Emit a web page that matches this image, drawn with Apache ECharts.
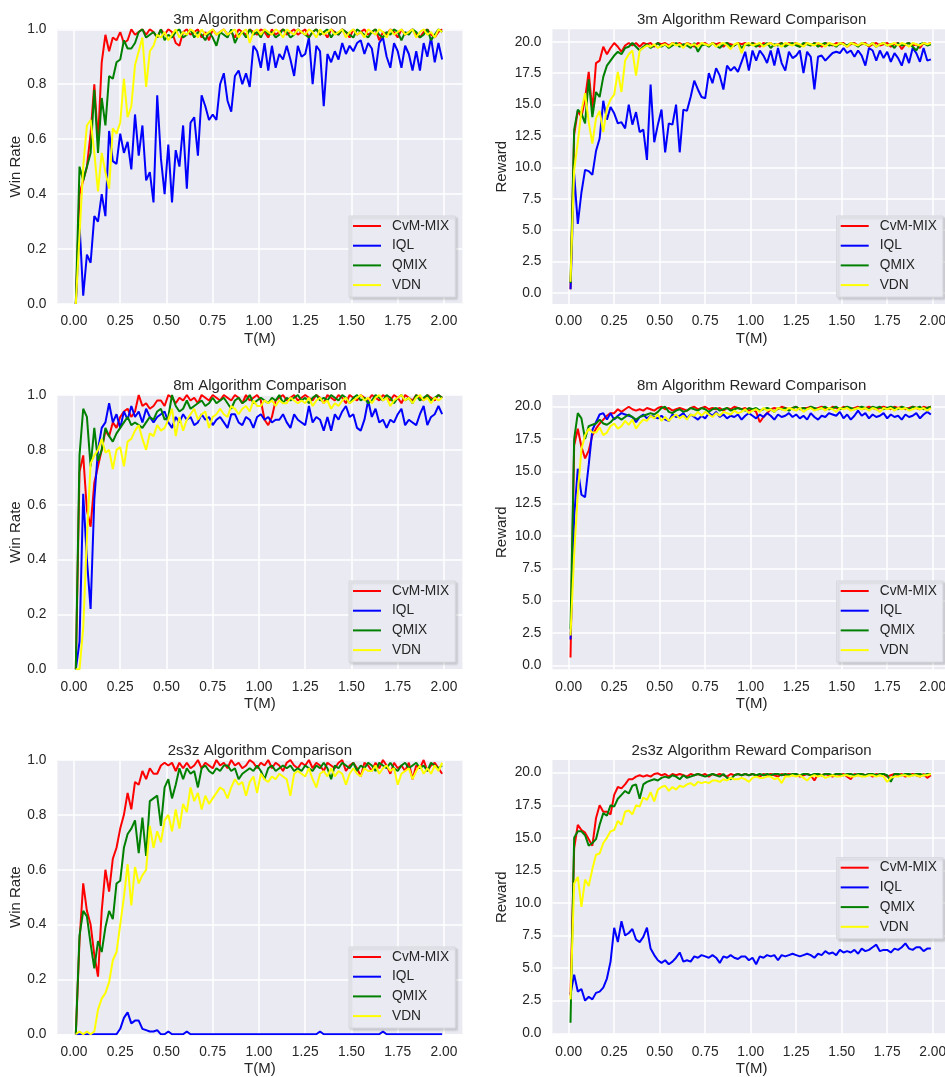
<!DOCTYPE html>
<html><head><meta charset="utf-8">
<script src="https://cdn.jsdelivr.net/npm/echarts@6.0.0/dist/echarts.min.js"></script>
<style>html,body{margin:0;padding:0;background:#fff}#c{width:945px;height:1077px}</style>
</head><body><div id="c"></div>
<script>
const T = [
0.01,0.03,0.05,0.07,0.09,0.11,0.13,0.15,0.17,0.19,
0.21,0.23,0.25,0.27,0.29,0.31,0.33,0.35,0.37,0.39,
0.41,0.43,0.45,0.47,0.49,0.51,0.53,0.55,0.57,0.59,
0.61,0.63,0.65,0.67,0.69,0.71,0.73,0.75,0.77,0.79,
0.81,0.83,0.85,0.87,0.89,0.91,0.93,0.95,0.97,0.99,
1.01,1.03,1.05,1.07,1.09,1.11,1.13,1.15,1.17,1.19,
1.21,1.23,1.25,1.27,1.29,1.31,1.33,1.35,1.37,1.39,
1.41,1.43,1.45,1.47,1.49,1.51,1.53,1.55,1.57,1.59,
1.61,1.63,1.65,1.67,1.69,1.71,1.73,1.75,1.77,1.79,
1.81,1.83,1.85,1.87,1.89,1.91,1.93,1.95,1.97,1.99];

const SERIES_NAMES = ['CvM-MIX', 'IQL', 'QMIX', 'VDN'];
const X_TICKS = [0, 0.25, 0.5, 0.75, 1, 1.25, 1.5, 1.75, 2];
const WIN_TICKS = [0, 0.2, 0.4, 0.6, 0.8, 1];
const REWARD_TICKS = [0, 2.5, 5, 7.5, 10, 12.5, 15, 17.5, 20];

// ---- 3m win rate ----
const WIN_3M_CVM = [
0.00,0.40,0.45,0.50,0.62,0.80,0.59,0.88,0.98,0.92,
0.97,0.96,0.99,0.95,0.96,1.00,0.98,0.99,1.00,0.98,
1.00,0.99,0.97,1.00,0.98,1.00,0.99,0.95,0.94,0.99,
1.00,0.98,0.99,1.00,0.97,0.99,0.96,1.00,0.98,0.99,
1.00,0.98,0.99,0.97,1.00,0.99,0.98,1.00,0.99,0.98,
1.00,0.99,0.97,1.00,0.98,0.99,1.00,0.98,0.99,1.00,
0.98,0.99,1.00,0.97,0.99,1.00,0.98,0.99,0.97,1.00,
0.99,0.98,1.00,0.99,0.97,1.00,0.98,0.99,1.00,0.98,
0.99,1.00,0.96,0.99,0.98,1.00,0.99,0.97,1.00,0.98,
0.99,1.00,0.98,0.97,0.99,1.00,0.98,0.97,0.99,1.00];
const WIN_3M_IQL = [
0.00,0.29,0.03,0.18,0.15,0.32,0.30,0.40,0.32,0.63,
0.52,0.51,0.62,0.55,0.59,0.49,0.69,0.54,0.65,0.45,
0.48,0.37,0.76,0.53,0.40,0.58,0.37,0.56,0.50,0.65,
0.42,0.66,0.68,0.54,0.76,0.72,0.67,0.69,0.67,0.80,
0.84,0.74,0.70,0.83,0.85,0.80,0.84,0.79,0.94,0.92,
0.86,0.95,0.85,0.94,0.86,0.91,0.89,0.94,0.89,0.83,
0.94,0.90,0.91,0.97,0.80,0.94,0.92,0.72,0.91,0.88,
0.92,0.89,0.95,0.91,0.94,0.92,0.95,0.96,0.91,0.95,
0.93,0.85,0.95,0.97,0.90,0.86,0.95,0.92,0.86,0.94,
0.91,0.85,0.92,0.85,0.95,0.90,0.97,0.88,0.95,0.89];
const WIN_3M_QMIX = [
0.00,0.50,0.45,0.50,0.55,0.78,0.55,0.75,0.65,0.83,
0.82,0.88,0.89,0.96,0.93,0.93,0.95,0.99,1.00,0.97,
0.98,0.99,0.97,1.00,0.96,0.98,0.97,0.99,1.00,0.97,
0.98,1.00,0.97,0.99,0.98,0.96,0.99,0.97,0.94,0.99,
0.98,0.97,1.00,0.95,0.98,0.99,0.97,1.00,0.98,0.99,
0.97,1.00,0.98,0.99,0.97,0.98,1.00,0.99,0.97,0.98,
1.00,0.99,0.98,0.97,0.99,1.00,0.98,0.99,1.00,0.97,
0.99,0.98,1.00,0.99,0.98,0.97,1.00,0.99,0.98,0.97,
0.99,1.00,0.98,0.97,0.99,0.98,1.00,0.99,0.96,0.99,
0.98,1.00,0.99,0.97,0.98,1.00,0.96,0.98,1.00,0.99];
const WIN_3M_VDN = [
0.00,0.25,0.50,0.65,0.67,0.55,0.41,0.55,0.48,0.42,
0.64,0.62,0.66,0.82,0.68,0.72,0.87,0.92,0.97,0.79,
0.92,0.94,0.98,0.97,0.99,0.96,0.98,1.00,0.97,0.99,
0.98,1.00,0.99,0.97,1.00,0.98,0.99,1.00,0.98,0.99,
1.00,0.98,0.99,1.00,0.97,0.99,1.00,0.95,0.99,1.00,
0.98,1.00,0.99,0.98,1.00,0.99,0.97,1.00,0.99,0.98,
1.00,0.99,0.98,1.00,0.99,0.97,1.00,0.98,0.99,1.00,
0.98,0.99,1.00,0.97,0.99,1.00,0.98,0.99,0.97,1.00,
0.99,0.98,1.00,0.99,0.97,1.00,0.98,0.99,1.00,0.98,
0.99,1.00,0.97,0.99,1.00,0.98,0.99,0.97,1.00,0.99];

// ---- 3m reward ----
const REW_3M_CVM = [
0.3,12.6,14.5,14.0,15.5,17.6,14.5,18.3,18.5,19.6,
19.0,19.5,19.9,19.6,19.2,19.7,19.9,19.7,19.9,19.6,
19.9,19.8,19.9,19.6,19.9,19.8,19.9,19.7,19.9,19.8,
19.9,19.7,19.9,19.8,19.6,19.9,19.8,19.9,19.7,19.9,
19.8,19.9,19.6,19.9,19.8,19.7,19.9,19.8,19.9,19.7,
19.9,19.8,19.6,19.9,19.8,19.9,19.7,19.8,19.9,19.7,
19.9,19.8,19.9,19.6,19.8,19.9,19.7,19.9,19.8,19.6,
19.9,19.8,19.7,19.9,19.8,19.9,19.6,19.8,19.9,19.7,
19.8,19.9,19.6,19.8,19.9,19.7,19.8,19.9,19.6,19.8,
19.9,19.4,19.8,19.9,19.7,19.8,19.5,19.9,19.8,19.9];
const REW_3M_IQL = [
0.3,9.5,5.5,8.0,9.8,9.7,9.4,11.3,12.3,15.3,
13.8,14.8,14.3,13.5,13.6,13.1,15.0,13.4,14.4,12.8,
13.0,10.6,16.6,12.0,13.4,14.6,11.2,13.5,13.4,15.0,
11.2,14.6,14.5,15.6,16.9,16.2,15.6,15.5,17.5,16.7,
17.9,17.3,16.2,18.1,17.7,18.0,17.6,18.4,19.2,17.7,
19.3,18.5,19.3,18.9,18.3,19.3,18.1,19.5,18.3,17.7,
19.2,18.7,18.9,19.3,17.5,19.2,18.8,16.2,18.8,18.9,
18.5,18.8,19.1,19.2,19.1,19.5,19.1,19.3,18.8,19.3,
18.9,18.1,19.5,19.3,18.5,19.3,18.7,19.2,18.4,19.1,
18.7,18.1,19.1,18.3,19.5,19.1,18.4,19.5,18.5,18.6];
const REW_3M_QMIX = [
0.8,13.0,14.6,14.3,13.5,17.0,14.0,16.0,15.6,17.2,
18.1,18.5,18.9,19.2,19.0,19.5,19.6,19.9,19.6,19.3,
19.6,19.8,19.5,19.7,19.9,19.6,19.8,19.5,19.7,19.9,
19.6,19.8,19.7,19.5,19.9,19.2,19.7,19.8,19.6,19.9,
19.7,19.5,19.8,19.9,19.6,19.7,19.9,19.5,19.8,19.7,
19.9,19.6,19.8,19.7,19.9,19.5,19.8,19.7,19.9,19.6,
19.8,19.9,19.7,19.6,19.9,19.8,19.7,19.9,19.6,19.8,
19.9,19.7,19.8,19.6,19.9,19.8,19.7,19.9,19.8,19.6,
19.9,19.8,19.7,19.9,19.6,19.8,19.9,19.7,19.8,19.5,
19.9,19.7,19.8,19.9,19.6,19.3,19.8,19.9,19.7,19.8];
const REW_3M_VDN = [
0.9,9.8,12.0,14.5,15.9,13.6,11.9,13.9,14.5,12.8,
14.7,15.4,15.8,17.6,16.0,18.5,19.0,19.3,17.3,19.3,
19.5,19.7,19.6,19.8,19.5,19.7,19.8,19.6,19.9,19.7,
19.8,19.5,19.9,19.7,19.8,19.6,19.9,19.8,19.7,19.9,
19.6,19.8,19.9,19.7,19.4,19.8,19.9,19.1,19.8,19.9,
19.7,19.8,19.9,19.6,19.8,19.9,19.7,19.8,19.6,19.9,
19.8,19.7,19.9,19.8,19.6,19.9,19.8,19.7,19.9,19.8,
19.6,19.9,19.8,19.7,19.9,19.8,19.6,19.9,19.8,19.7,
19.9,19.8,19.7,19.9,19.6,19.8,19.9,19.7,19.8,19.9,
19.7,19.9,19.8,19.6,19.9,19.8,19.7,19.9,19.8,19.9];

// ---- 8m win rate ----
const WIN_8M_CVM = [
0.00,0.72,0.78,0.58,0.52,0.68,0.74,0.80,0.87,0.85,
0.90,0.88,0.92,0.94,0.95,0.92,0.94,1.00,0.96,0.97,
0.95,0.96,0.98,0.98,0.96,1.00,0.99,0.97,0.99,0.98,
1.00,0.98,0.99,0.97,1.00,0.99,0.98,1.00,0.99,0.98,
1.00,0.99,0.98,1.00,0.99,0.97,1.00,0.98,0.99,1.00,
0.98,0.91,0.89,0.92,0.98,0.99,1.00,0.98,0.99,1.00,
0.98,0.99,1.00,0.99,0.98,1.00,0.99,0.97,1.00,0.99,
0.98,1.00,0.99,0.97,1.00,0.99,0.98,1.00,0.99,0.98,
1.00,0.99,0.98,1.00,0.99,0.98,1.00,0.99,0.97,1.00,
0.99,0.98,1.00,0.99,0.98,1.00,0.99,0.98,1.00,0.99];
const WIN_8M_IQL = [
0.00,0.10,0.64,0.40,0.22,0.62,0.80,0.88,0.90,0.97,
0.90,0.93,0.88,0.94,0.91,0.96,0.92,0.94,0.90,0.95,
0.92,0.90,0.92,0.93,0.94,0.90,0.88,0.92,0.90,0.93,
0.91,0.92,0.89,0.90,0.93,0.91,0.92,0.89,0.91,0.92,
0.90,0.88,0.93,0.93,0.90,0.89,0.92,0.91,0.88,0.92,
0.93,0.91,0.92,0.90,0.91,0.91,0.93,0.90,0.88,0.93,
0.91,0.90,0.89,0.96,0.90,0.92,0.91,0.87,0.92,0.87,
0.93,0.91,0.94,0.96,0.92,0.93,0.88,0.87,0.91,0.98,
0.92,0.95,0.90,0.91,0.88,0.91,0.90,0.93,0.95,0.89,
0.91,0.90,0.89,0.93,0.96,0.89,0.92,0.93,0.96,0.93];
const WIN_8M_QMIX = [
0.00,0.78,0.95,0.92,0.74,0.88,0.76,0.80,0.88,0.85,
0.83,0.86,0.88,0.90,0.92,0.89,0.90,0.89,0.88,0.90,
0.92,0.91,0.94,0.95,0.91,0.92,1.00,0.96,0.94,0.95,
0.98,0.95,0.96,0.97,0.98,0.96,0.97,0.99,0.97,0.98,
0.99,0.97,0.95,0.98,0.99,0.97,0.98,1.00,0.97,0.98,
0.99,0.98,0.97,0.99,0.98,1.00,0.97,0.99,0.98,0.99,
1.00,0.98,0.99,0.97,0.99,1.00,0.98,0.99,0.98,1.00,
0.99,0.98,1.00,0.99,0.97,0.99,1.00,0.98,0.99,0.97,
0.98,1.00,0.99,0.98,1.00,0.99,0.97,0.99,1.00,0.98,
0.99,0.97,1.00,0.98,0.99,1.00,0.98,0.99,1.00,0.99];
const WIN_8M_VDN = [
0.00,0.00,0.15,0.48,0.75,0.78,0.80,0.84,0.79,0.80,
0.73,0.80,0.81,0.74,0.83,0.84,0.87,0.89,0.84,0.80,
0.86,0.85,0.89,0.87,0.88,0.91,0.95,0.85,0.92,0.87,
0.91,0.93,0.95,0.91,0.93,0.94,0.88,0.92,0.93,0.95,
0.93,0.92,0.96,0.95,0.93,0.95,0.96,0.94,0.98,0.96,
0.96,0.98,0.97,0.98,0.96,0.98,0.97,0.97,0.99,0.98,
0.97,0.98,0.97,0.99,0.96,0.98,0.99,0.97,0.98,0.95,
0.97,0.96,0.98,0.99,0.97,0.98,0.99,1.00,0.98,0.99,
0.97,0.99,1.00,0.98,0.99,0.96,0.98,0.99,1.00,0.98,
0.99,0.97,0.99,1.00,0.98,0.99,0.97,0.99,0.98,0.99];

// ---- 8m reward ----
const REW_8M_CVM = [
0.6,17.0,18.3,16.9,16.0,16.6,17.8,18.3,18.7,19.0,
19.3,19.5,19.5,19.8,19.6,19.8,20.0,19.8,19.7,19.8,
19.7,19.9,19.8,19.7,19.9,20.0,19.8,19.9,19.7,19.8,
19.9,19.8,19.7,19.9,20.0,19.8,19.9,20.0,19.8,19.9,
19.8,19.9,19.7,19.9,19.8,20.0,19.9,19.8,19.9,19.7,
19.8,19.6,18.8,19.2,19.5,19.8,19.9,19.8,20.0,19.9,
19.8,19.9,20.0,19.8,19.9,19.9,20.0,19.8,19.9,20.0,
19.9,19.8,20.0,19.9,19.8,20.0,19.9,19.8,19.9,20.0,
19.8,19.9,20.0,19.9,19.8,19.9,20.0,19.9,19.8,20.0,
19.9,20.0,19.8,19.9,20.0,19.9,19.8,20.0,19.9,20.0];
const REW_8M_IQL = [
2.0,11.5,15.2,13.2,13.0,15.5,18.2,18.8,19.4,19.5,
19.0,19.5,19.0,19.3,19.5,19.4,19.3,19.2,18.8,19.2,
19.4,19.1,19.3,19.2,19.1,19.3,19.0,18.9,19.4,19.2,
19.3,19.5,19.1,19.4,19.2,19.0,19.3,19.1,19.5,19.3,
19.6,19.2,19.4,19.1,19.3,19.2,19.4,19.0,19.3,19.5,
19.3,19.1,19.4,19.2,19.5,19.3,19.0,19.4,19.2,19.3,
19.5,19.2,19.4,19.1,19.3,19.0,19.5,19.2,19.0,19.3,
19.2,19.5,19.4,19.3,19.6,19.1,19.4,19.0,19.3,19.7,
19.3,19.5,19.1,19.4,19.2,19.3,19.5,19.1,19.4,19.2,
19.3,19.0,19.4,19.2,19.3,19.5,19.1,19.4,19.6,19.4];
const REW_8M_QMIX = [
2.8,17.5,19.5,19.1,17.5,18.5,18.6,18.7,19.0,18.7,
18.6,18.8,19.1,19.2,19.0,19.2,19.4,19.2,19.0,19.2,
19.3,19.4,19.5,19.4,19.6,19.9,20.0,19.6,19.5,19.7,
19.8,19.6,19.7,19.9,19.8,19.7,19.9,19.8,19.6,19.8,
19.9,19.7,19.8,19.9,19.7,19.8,19.9,19.8,19.7,19.9,
19.8,19.9,19.7,19.8,19.9,19.8,19.6,19.9,19.8,19.9,
19.7,19.9,20.0,19.8,19.9,19.8,20.0,19.9,19.8,19.9,
20.0,19.8,19.9,20.0,19.8,19.9,20.0,19.9,19.8,19.9,
20.0,19.9,19.8,20.0,19.9,20.0,19.8,19.9,20.0,19.9,
19.8,20.0,19.9,19.8,20.0,19.9,20.0,19.8,19.9,20.0];
const REW_8M_VDN = [
2.3,8.6,13.3,16.7,17.8,18.3,18.0,18.0,18.4,17.8,
18.0,18.5,18.7,18.3,18.5,18.9,18.6,19.0,18.3,18.7,
19.0,18.9,19.3,19.1,19.4,18.9,19.2,18.9,19.2,19.4,
19.1,19.3,19.0,19.4,19.3,19.6,19.3,19.6,19.4,19.2,
19.5,19.3,19.6,19.5,19.4,19.7,19.5,19.6,19.8,19.5,
19.7,19.8,19.6,19.9,19.7,19.8,19.6,19.9,19.8,19.7,
19.9,19.8,19.7,19.9,19.6,19.8,19.9,19.7,19.8,19.9,
19.7,19.9,19.8,19.6,19.9,19.8,19.9,19.7,19.8,19.9,
19.8,19.9,19.7,19.9,19.8,19.6,19.9,19.8,19.9,19.7,
19.9,19.8,19.9,19.7,19.8,19.9,19.8,19.9,19.7,19.9];

// ---- 2s3z win rate ----
const WIN_2S3Z_CVM = [
0.00,0.34,0.55,0.45,0.40,0.29,0.21,0.45,0.60,0.52,
0.64,0.68,0.75,0.80,0.88,0.82,0.92,0.91,0.96,0.93,
0.97,0.95,0.95,0.98,0.99,0.98,0.99,0.96,0.99,0.97,
0.99,0.97,0.98,1.00,0.97,0.99,0.98,0.97,1.00,0.98,
0.99,0.97,1.00,0.98,0.99,0.97,0.98,1.00,0.99,0.97,
0.99,0.98,1.00,0.97,0.99,0.98,0.96,0.99,1.00,0.98,
0.97,0.99,0.98,1.00,0.97,0.99,0.98,0.96,0.99,0.98,
0.97,0.99,1.00,0.96,0.98,0.99,0.97,0.94,0.99,0.98,
0.96,0.99,0.97,1.00,0.98,0.95,0.99,0.97,0.98,0.96,
0.99,0.93,0.98,0.97,1.00,0.96,0.98,0.99,0.97,0.95];
const WIN_2S3Z_IQL = [
0,0,0,0,0,0,0,0,0,0,
0,0,0.02,0.06,0.08,0.04,0.05,0.05,0.02,0.015,
0.01,0.01,0.015,0,0,0.01,0,0,0,0,
0.01,0,0,0,0,0,0,0,0,0,
0,0,0,0,0,0,0,0,0,0,
0,0,0,0,0,0,0,0,0,0,
0,0,0,0,0,0,0.01,0,0,0,
0,0,0,0,0,0,0,0,0,0,
0,0,0,0.01,0,0,0,0,0,0,
0,0,0,0,0,0,0,0,0,0];
const WIN_2S3Z_QMIX = [
0.00,0.36,0.45,0.43,0.33,0.24,0.34,0.30,0.39,0.45,
0.42,0.55,0.56,0.68,0.73,0.75,0.78,0.66,0.79,0.65,
0.85,0.86,0.87,0.76,0.90,0.93,0.86,0.91,0.97,0.93,
0.97,0.95,0.96,0.90,0.97,0.98,0.96,0.95,0.97,0.96,
0.98,0.98,0.96,0.97,0.93,0.95,0.96,0.97,0.96,0.98,
0.96,0.93,0.97,0.98,0.96,0.97,0.98,0.97,0.98,0.96,
0.97,0.96,0.98,0.97,0.96,0.98,0.97,0.99,0.97,0.93,
0.98,0.97,0.99,0.98,0.97,0.99,0.96,0.98,0.97,0.99,
0.98,0.96,0.99,0.98,0.97,0.99,0.97,0.96,0.98,0.99,
0.97,0.98,0.99,0.97,0.98,0.96,0.99,0.98,0.97,0.98];
const WIN_2S3Z_VDN = [
0.00,0.01,0.00,0.01,0.00,0.01,0.09,0.13,0.15,0.19,
0.27,0.30,0.40,0.50,0.62,0.47,0.61,0.55,0.58,0.60,
0.76,0.68,0.74,0.70,0.78,0.80,0.74,0.82,0.75,0.84,
0.81,0.90,0.85,0.88,0.82,0.87,0.84,0.86,0.88,0.90,
0.89,0.86,0.90,0.93,0.91,0.92,0.87,0.92,0.94,0.88,
0.95,0.93,0.92,0.94,0.93,0.95,0.94,0.93,0.87,0.95,
0.96,0.95,0.94,0.97,0.93,0.90,0.95,0.96,0.94,0.97,
0.94,0.96,0.95,0.91,0.95,0.97,0.95,0.94,0.97,0.96,
0.96,0.98,0.95,0.97,0.98,0.96,0.97,0.91,0.95,0.96,
0.97,0.93,0.96,0.98,0.95,0.97,0.95,0.98,0.96,0.99];

// ---- 2s3z reward ----
const REW_2S3Z_CVM = [
2.9,14.2,16.0,15.6,15.4,14.9,14.4,16.5,17.5,17.0,
17.0,16.8,18.3,18.9,18.8,19.1,19.5,19.5,19.7,19.8,
19.7,19.8,19.7,19.9,19.95,19.8,19.9,19.7,19.9,19.8,
19.9,19.8,19.7,19.9,19.8,19.9,19.8,19.9,19.7,19.9,
19.8,19.9,19.8,19.7,19.9,19.8,19.9,19.8,19.9,19.8,
19.9,19.8,19.7,19.9,19.8,19.9,19.8,19.7,19.9,19.8,
19.9,19.8,19.9,19.7,19.8,19.9,19.8,19.4,19.9,19.8,
19.9,19.8,19.7,19.9,19.8,19.9,19.7,19.5,19.9,19.8,
19.9,19.8,19.9,19.7,19.9,19.8,19.9,19.7,19.8,19.9,
19.8,19.9,19.7,19.8,19.9,19.8,19.7,19.9,19.6,19.8];
const REW_2S3Z_IQL = [
3.0,4.5,3.2,3.4,2.5,2.8,2.6,3.1,3.2,3.5,
4.2,5.5,8.1,7.0,8.6,7.5,7.7,8.0,7.2,7.0,
7.4,8.1,6.5,6.0,5.6,5.4,5.6,5.3,5.5,5.8,
6.2,5.5,5.6,5.5,5.9,5.8,6.0,5.9,5.8,6.0,
5.8,5.4,5.9,5.8,6.0,5.8,5.7,5.9,5.9,5.6,
5.8,5.3,5.9,5.8,6.0,5.9,6.0,5.6,6.0,5.9,
6.0,6.1,6.0,5.9,6.0,6.1,6.0,5.8,6.1,6.0,
6.3,6.1,6.2,6.0,6.4,6.2,6.3,6.2,6.4,6.1,
6.5,6.3,6.4,6.6,6.8,6.3,6.4,6.4,6.2,6.5,
6.4,6.6,6.9,6.5,6.4,6.6,6.6,6.3,6.5,6.5];
const REW_2S3Z_QMIX = [
0.8,15.0,15.5,15.5,15.2,14.4,14.6,14.9,16.0,16.9,
16.7,17.5,17.4,18.0,18.3,18.6,18.4,19.0,19.1,18.0,
19.1,19.3,19.4,19.5,19.4,19.6,19.7,19.6,19.8,19.7,
19.5,19.8,19.6,19.7,19.8,19.9,19.8,19.7,19.8,19.9,
19.8,19.7,19.9,19.6,19.5,19.8,19.9,19.8,19.9,19.8,
19.9,19.8,19.9,19.8,19.9,19.8,19.9,19.9,19.8,19.9,
19.8,19.9,19.9,19.8,19.9,19.9,19.8,19.9,19.9,19.8,
19.9,19.9,19.8,19.9,19.9,19.8,19.9,19.9,19.8,19.9,
19.9,19.8,19.9,19.9,19.8,19.9,19.9,19.8,19.3,19.9,
19.9,19.8,19.9,19.9,19.8,19.9,19.9,19.8,19.9,19.9];
const REW_2S3Z_VDN = [
2.6,11.5,12.0,9.7,11.8,11.3,12.6,13.7,13.8,14.6,
15.0,15.5,15.6,16.3,16.0,17.0,17.1,16.8,17.5,17.4,
18.1,17.9,18.5,17.8,18.7,18.9,19.0,18.6,18.9,18.7,
19.0,18.9,19.1,19.2,19.0,19.3,19.2,19.3,19.2,19.4,
19.4,19.3,19.5,19.4,19.6,19.5,19.5,19.6,19.5,19.3,
19.6,19.7,19.6,19.6,19.7,19.7,19.5,19.6,19.2,19.7,
19.7,19.8,19.7,19.8,19.6,19.4,19.7,19.8,19.7,19.8,
19.6,19.7,19.8,19.7,19.7,19.8,19.8,19.7,19.7,19.8,
19.7,19.7,19.8,19.8,19.7,19.8,19.7,19.3,19.6,19.7,
19.7,19.8,19.8,19.7,19.8,19.8,19.7,19.8,19.8,19.9];

const TITLES = ['3m Algorithm Comparison', '3m Algorithm Reward Comparison',
  '8m Algorithm Comparison', '8m Algorithm Reward Comparison',
  '2s3z Algorithm Comparison', '2s3z Algorithm Reward Comparison'];

// ---------------- layout & style ----------------
const FONT = "'Liberation Sans', Arial, Helvetica, sans-serif";
const TXT = '#262626';
const COLORS = ['#ff0000', '#0000ff', '#008000', '#ffff00'];
const COL_LEFT = [57.4, 552.4];
const COL_WIDTH = [405, 398.4];
const ROW_TOP = [29.3, 395, 760];
const ROW_HEIGHT = [274.7, 274.3, 274.3];
const X_MIN = -0.0895, X_MAX = 2.0995;
const REW_RANGE = [[-0.875, 20.99], [-0.31, 20.905], [-0.08, 20.975]];
const LEGEND_POS = [[349, 216], [836.7, 216], [349, 581], [836.7, 581], [349, 947], [836.7, 857.7]];

const PANEL_DATA = [
  [WIN_3M_CVM, WIN_3M_IQL, WIN_3M_QMIX, WIN_3M_VDN],
  [REW_3M_CVM, REW_3M_IQL, REW_3M_QMIX, REW_3M_VDN],
  [WIN_8M_CVM, WIN_8M_IQL, WIN_8M_QMIX, WIN_8M_VDN],
  [REW_8M_CVM, REW_8M_IQL, REW_8M_QMIX, REW_8M_VDN],
  [WIN_2S3Z_CVM, WIN_2S3Z_IQL, WIN_2S3Z_QMIX, WIN_2S3Z_VDN],
  [REW_2S3Z_CVM, REW_2S3Z_IQL, REW_2S3Z_QMIX, REW_2S3Z_VDN]
];

const grids = [], xAxes = [], yAxes = [], series = [], titles = [], legends = [];
for (let p = 0; p < 6; p++) {
  const row = Math.floor(p / 2), col = p % 2;
  const isWin = col === 0;
  grids.push({
    left: COL_LEFT[col], top: ROW_TOP[row], width: COL_WIDTH[col], height: ROW_HEIGHT[row],
    show: true, backgroundColor: '#EAEAF2', borderWidth: 0, containLabel: false,
    outerBoundsMode: 'none'
  });
  xAxes.push({
    type: 'value', gridIndex: p, min: X_MIN, max: X_MAX,
    axisLine: { show: false }, axisTick: { show: false, customValues: X_TICKS },
    axisLabel: { customValues: X_TICKS, formatter: v => v.toFixed(2), fontSize: 13.75, color: TXT, fontFamily: FONT, margin: 10.5 },
    splitLine: { show: true, lineStyle: { color: '#ffffff', width: 1.5 } },
    name: 'T(M)', nameLocation: 'middle', nameGap: 27,
    nameTextStyle: { fontSize: 15, color: TXT, fontFamily: FONT }
  });
  const yr = isWin ? [0, 1] : REW_RANGE[row];
  const yt = isWin ? WIN_TICKS : REWARD_TICKS;
  yAxes.push({
    type: 'value', gridIndex: p, min: yr[0], max: yr[1],
    axisLine: { show: false }, axisTick: { show: false, customValues: yt },
    axisLabel: { customValues: yt, formatter: v => v.toFixed(1), fontSize: 13.75, color: TXT, fontFamily: FONT, margin: 11 },
    splitLine: { show: true, lineStyle: { color: '#ffffff', width: 1.5 } },
    name: isWin ? 'Win Rate' : 'Reward', nameLocation: 'middle', nameGap: isWin ? 34.2 : 42.6,
    nameTextStyle: { fontSize: 15, color: TXT, fontFamily: FONT }
  });
  titles.push({
    text: TITLES[p], left: COL_LEFT[col] + COL_WIDTH[col] / 2, top: ROW_TOP[row] - 16.5,
    textAlign: 'center', padding: 0,
    textStyle: { fontSize: 15, fontWeight: 'normal', color: TXT, fontFamily: FONT }
  });
  legends.push({
    orient: 'vertical', left: LEGEND_POS[p][0], top: LEGEND_POS[p][1],
    padding: [3, 6, 5, 4], itemGap: 5.7, itemWidth: 28, itemHeight: 2, icon: 'rect',
    backgroundColor: '#EAEAF2', borderColor: '#d6d6dd', borderWidth: 1,
    shadowColor: 'rgba(0,0,0,0.14)', shadowOffsetX: 2, shadowOffsetY: 2, shadowBlur: 2,
    selectedMode: false, data: SERIES_NAMES,
    textStyle: { fontSize: 13.75, color: TXT, fontFamily: FONT, lineHeight: 14, padding: [0, 0, 0, 6] }
  });
  for (let s = 0; s < 4; s++) {
    const vals = PANEL_DATA[p][s];
    series.push({
      type: 'line', name: SERIES_NAMES[s], xAxisIndex: p, yAxisIndex: p,
      data: T.map((t, i) => [t, vals[i]]),
      showSymbol: false, symbol: 'none', clip: true,
      lineStyle: { color: COLORS[s], width: 2 }, itemStyle: { color: COLORS[s] },
      emphasis: { disabled: true }, z: 2 + s
    });
  }
}

const chart = echarts.init(document.getElementById('c'), null, { renderer: 'canvas' });
chart.setOption({
  backgroundColor: '#ffffff', animation: false,
  title: titles, legend: legends, grid: grids, xAxis: xAxes, yAxis: yAxes, series: series
});
</script>
</body></html>
